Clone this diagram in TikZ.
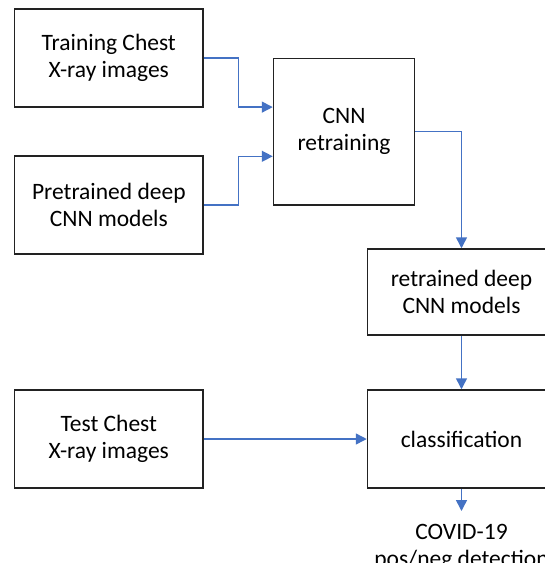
\documentclass[tikz,border=0pt]{standalone}
\usepackage{fontspec}
\setmainfont{Carlito}
\usetikzlibrary{arrows.meta,calc}
\definecolor{arrblue}{HTML}{4472C4}
\definecolor{boxline}{HTML}{222222}
\begin{document}
\begin{tikzpicture}[x=1pt,y=-1pt,
  box/.style={draw=boxline,line width=1.5pt,rectangle,inner sep=0pt,align=center,
    font=\fontsize{23.5}{27}\selectfont},
  arr/.style={draw=arrblue,line width=1.5pt,-{Triangle[length=11pt,width=11pt]}},
  lbl/.style={inner sep=0pt,align=center,font=\fontsize{23.5}{27}\selectfont}]
\clip (0,0) rectangle (545,563);
\fill[white] (0,0) rectangle (545,563);
\node[box,minimum width=188.4pt,minimum height=98.3pt] (train) at (108.8,57.9) {Training Chest\\X-ray images};
\node[box,minimum width=188.4pt,minimum height=98.3pt] (pre) at (108.8,205) {Pretrained deep\\CNN models};
\node[box,minimum width=141pt,minimum height=146.6pt] (cnn) at (344,131.7) {CNN\\retraining};
\node[box,minimum width=188pt,minimum height=86pt] (ret) at (461.5,292) {retrained deep\\CNN models};
\node[box,minimum width=188pt,minimum height=98pt] (cls) at (461.5,439) {classification};
\node[box,minimum width=188.4pt,minimum height=98pt] (test) at (108.8,439) {Test Chest\\X-ray images};
\node[lbl,anchor=north] (out) at (461.5,524) {COVID-19\\pos/neg detection};
\coordinate (outtip) at (461.5,511);
\draw[arr] (train.east) -- (238.5,57.9) |- ([yshift=24.6pt]cnn.west);
\draw[arr] (pre.east) -- (238.5,205) |- ([yshift=-24.6pt]cnn.west);
\draw[arr] (cnn.east) -| (ret.north);
\draw[arr] (ret.south) -- (cls.north);
\draw[arr] (test.east) -- (cls.west);
\draw[arr] (cls.south) -- (outtip);
\end{tikzpicture}
\end{document}
